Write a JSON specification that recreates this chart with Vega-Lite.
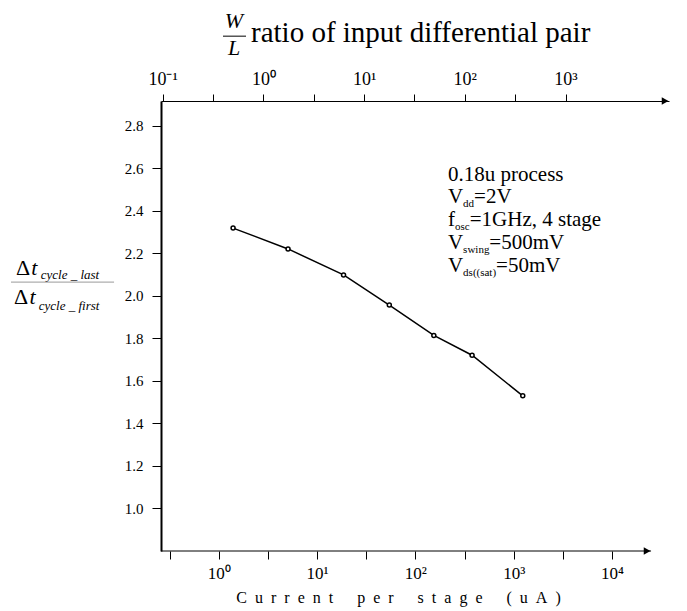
{
  "$schema": "https://vega.github.io/schema/vega-lite/v6.json",
  "width": 508,
  "height": 450,
  "padding": {"left": 10, "top": 9, "right": 5, "bottom": 5},
  "background": "white",
  "config": {
    "view": {"stroke": null},
    "font": "Liberation Serif",
    "axis": {"labelFont": "Liberation Serif", "titleFont": "Liberation Serif", "labelColor": "black", "titleColor": "black", "tickColor": "black", "domainColor": "black", "grid": false, "titleFontWeight": "normal"}
  },
  "layer": [
    {
      "layer": [
        {
          "data": {"values": [
            {"current": 1.40, "ratio": 2.319},
            {"current": 5.07, "ratio": 2.221},
            {"current": 18.6, "ratio": 2.099},
            {"current": 54.3, "ratio": 1.957},
            {"current": 154, "ratio": 1.814},
            {"current": 377, "ratio": 1.721},
            {"current": 1235, "ratio": 1.530}
          ]},
          "mark": {"type": "line", "color": "black", "strokeWidth": 1.5, "point": {"filled": false, "fill": "white", "stroke": "black", "size": 16, "strokeWidth": 1.5, "opacity": 1}},
          "encoding": {
            "x": {"field": "current", "type": "quantitative",
              "scale": {"type": "log", "domain": [0.259, 37900], "nice": false},
              "axis": {"orient": "bottom", "domain": false, "values": [0.3162, 1, 3.162, 10, 31.62, 100, 316.2, 1000, 3162, 10000],
                "labelExpr": "datum.value == 1 ? '10⁰' : datum.value == 10 ? '10¹' : datum.value == 100 ? '10²' : datum.value == 1000 ? '10³' : datum.value == 10000 ? '10⁴' : ''",
                "tickSize": 8, "labelPadding": 6, "labelFontSize": 17, "labelFlush": false, "labelOverlap": false,
                "title": "C\u00a0\u00a0u\u00a0\u00a0r\u00a0\u00a0r\u00a0\u00a0e\u00a0\u00a0n\u00a0\u00a0t\u00a0\u00a0\u00a0\u00a0\u00a0\u00a0p\u00a0\u00a0e\u00a0\u00a0r\u00a0\u00a0\u00a0\u00a0\u00a0\u00a0s\u00a0\u00a0t\u00a0\u00a0a\u00a0\u00a0g\u00a0\u00a0e\u00a0\u00a0\u00a0\u00a0\u00a0\u00a0(\u00a0\u00a0u\u00a0\u00a0A\u00a0\u00a0)",
                "titleFontSize": 16, "titlePadding": 8, "titleX": 237, "titleAlign": "center"}},
            "y": {"field": "ratio", "type": "quantitative",
              "scale": {"domain": [0.8, 2.917], "nice": false, "zero": false},
              "axis": {"values": [1.0, 1.2, 1.4, 1.6, 1.8, 2.0, 2.2, 2.4, 2.6, 2.8], "format": ".1f", "tickSize": 9, "labelPadding": 9, "labelFontSize": 15, "domainWidth": 2, "title": null}}
          }
        },
        {
          "data": {"values": [{}]},
          "mark": {"type": "rule", "color": "black", "strokeWidth": 1},
          "encoding": {"x": {"datum": 0.259, "type": "quantitative"}, "x2": {"datum": 24900}, "y": {"datum": 0.8, "type": "quantitative"}}
        },
        {
          "data": {"values": [{}]},
          "mark": {"type": "point", "shape": "triangle-right", "filled": true, "color": "black", "size": 60, "opacity": 1},
          "encoding": {"x": {"datum": 22700, "type": "quantitative"}, "y": {"datum": 0.8, "type": "quantitative"}}
        },
        {
          "data": {"values": [{}]},
          "mark": {"type": "point", "shape": "triangle-right", "filled": true, "color": "black", "size": 60, "opacity": 1},
          "encoding": {"x": {"datum": 34600, "type": "quantitative"}, "y": {"datum": 2.917, "type": "quantitative"}}
        },
        {
          "data": {"values": [{}]},
          "mark": {"type": "text", "align": "center", "baseline": "alphabetic", "font": "Liberation Serif", "fontStyle": "italic", "fontSize": 22, "color": "black"},
          "encoding": {"x": {"datum": 1.431, "type": "quantitative"}, "y": {"datum": 3.262, "type": "quantitative"}, "text": {"value": "W"}}
        },
        {
          "data": {"values": [{}]},
          "mark": {"type": "text", "align": "center", "baseline": "alphabetic", "font": "Liberation Serif", "fontStyle": "italic", "fontSize": 22, "color": "black"},
          "encoding": {"x": {"datum": 1.431, "type": "quantitative"}, "y": {"datum": 3.133, "type": "quantitative"}, "text": {"value": "L"}}
        },
        {
          "data": {"values": [{}]},
          "mark": {"type": "rule", "color": "black", "strokeWidth": 1},
          "encoding": {"x": {"datum": 1.106, "type": "quantitative"}, "x2": {"datum": 1.895}, "y": {"datum": 3.222, "type": "quantitative"}}
        },
        {
          "data": {"values": [{}]},
          "mark": {"type": "text", "align": "left", "baseline": "alphabetic", "font": "Liberation Serif", "fontSize": 29, "color": "black"},
          "encoding": {"x": {"datum": 2.131, "type": "quantitative"}, "y": {"datum": 3.194, "type": "quantitative"}, "text": {"value": "ratio of input differential pair"}}
        },
        {
          "data": {"values": [{}]},
          "mark": {"type": "text", "align": "left", "baseline": "alphabetic", "font": "Liberation Serif", "fontSize": 22, "color": "black"},
          "encoding": {"x": {"datum": 0.00868, "type": "quantitative"}, "y": {"datum": 2.098, "type": "quantitative"}, "text": {"value": "Δ"}}
        },
        {
          "data": {"values": [{}]},
          "mark": {"type": "text", "align": "left", "baseline": "alphabetic", "font": "Liberation Serif", "fontStyle": "italic", "fontSize": 22, "color": "black"},
          "encoding": {"x": {"datum": 0.0124, "type": "quantitative"}, "y": {"datum": 2.098, "type": "quantitative"}, "text": {"value": "t"}}
        },
        {
          "data": {"values": [{}]},
          "mark": {"type": "text", "align": "left", "baseline": "alphabetic", "font": "Liberation Serif", "fontStyle": "italic", "fontSize": 13, "color": "black"},
          "encoding": {"x": {"datum": 0.01550, "type": "quantitative"}, "y": {"datum": 2.079, "type": "quantitative"}, "text": {"value": "cycle _ last"}}
        },
        {
          "data": {"values": [{}]},
          "mark": {"type": "rule", "color": "#999999", "strokeWidth": 1},
          "encoding": {"x": {"datum": 0.00773, "type": "quantitative"}, "x2": {"datum": 0.0863}, "y": {"datum": 2.065, "type": "quantitative"}}
        },
        {
          "data": {"values": [{}]},
          "mark": {"type": "text", "align": "left", "baseline": "alphabetic", "font": "Liberation Serif", "fontSize": 22, "color": "black"},
          "encoding": {"x": {"datum": 0.00828, "type": "quantitative"}, "y": {"datum": 1.962, "type": "quantitative"}, "text": {"value": "Δ"}}
        },
        {
          "data": {"values": [{}]},
          "mark": {"type": "text", "align": "left", "baseline": "alphabetic", "font": "Liberation Serif", "fontStyle": "italic", "fontSize": 22, "color": "black"},
          "encoding": {"x": {"datum": 0.0119, "type": "quantitative"}, "y": {"datum": 1.962, "type": "quantitative"}, "text": {"value": "t"}}
        },
        {
          "data": {"values": [{}]},
          "mark": {"type": "text", "align": "left", "baseline": "alphabetic", "font": "Liberation Serif", "fontStyle": "italic", "fontSize": 13, "color": "black"},
          "encoding": {"x": {"datum": 0.0148, "type": "quantitative"}, "y": {"datum": 1.934, "type": "quantitative"}, "text": {"value": "cycle _ first"}}
        },
        {
          "data": {"values": [{}]},
          "mark": {"type": "text", "align": "left", "baseline": "alphabetic", "font": "Liberation Serif", "fontSize": 21, "color": "black"},
          "encoding": {"x": {"datum": 214.8, "type": "quantitative"}, "y": {"datum": 2.540, "type": "quantitative"}, "text": {"value": "0.18u process"}}
        },
        {
          "data": {"values": [{}]},
          "mark": {"type": "text", "align": "left", "baseline": "alphabetic", "font": "Liberation Serif", "fontSize": 21, "color": "black"},
          "encoding": {"x": {"datum": 214.8, "type": "quantitative"}, "y": {"datum": 2.437, "type": "quantitative"}, "text": {"value": "V"}}
        },
        {
          "data": {"values": [{}]},
          "mark": {"type": "text", "align": "left", "baseline": "alphabetic", "font": "Liberation Serif", "fontSize": 11, "color": "black"},
          "encoding": {"x": {"datum": 305.5, "type": "quantitative"}, "y": {"datum": 2.418, "type": "quantitative"}, "text": {"value": "dd"}}
        },
        {
          "data": {"values": [{}]},
          "mark": {"type": "text", "align": "left", "baseline": "alphabetic", "font": "Liberation Serif", "fontSize": 21, "color": "black"},
          "encoding": {"x": {"datum": 395, "type": "quantitative"}, "y": {"datum": 2.437, "type": "quantitative"}, "text": {"value": "=2V"}}
        },
        {
          "data": {"values": [{}]},
          "mark": {"type": "text", "align": "left", "baseline": "alphabetic", "font": "Liberation Serif", "fontSize": 21, "color": "black"},
          "encoding": {"x": {"datum": 214.8, "type": "quantitative"}, "y": {"datum": 2.329, "type": "quantitative"}, "text": {"value": "f"}}
        },
        {
          "data": {"values": [{}]},
          "mark": {"type": "text", "align": "left", "baseline": "alphabetic", "font": "Liberation Serif", "fontSize": 11, "color": "black"},
          "encoding": {"x": {"datum": 253, "type": "quantitative"}, "y": {"datum": 2.311, "type": "quantitative"}, "text": {"value": "osc"}}
        },
        {
          "data": {"values": [{}]},
          "mark": {"type": "text", "align": "left", "baseline": "alphabetic", "font": "Liberation Serif", "fontSize": 21, "color": "black"},
          "encoding": {"x": {"datum": 357, "type": "quantitative"}, "y": {"datum": 2.329, "type": "quantitative"}, "text": {"value": "=1GHz, 4 stage"}}
        },
        {
          "data": {"values": [{}]},
          "mark": {"type": "text", "align": "left", "baseline": "alphabetic", "font": "Liberation Serif", "fontSize": 21, "color": "black"},
          "encoding": {"x": {"datum": 214.8, "type": "quantitative"}, "y": {"datum": 2.220, "type": "quantitative"}, "text": {"value": "V"}}
        },
        {
          "data": {"values": [{}]},
          "mark": {"type": "text", "align": "left", "baseline": "alphabetic", "font": "Liberation Serif", "fontSize": 11, "color": "black"},
          "encoding": {"x": {"datum": 305.5, "type": "quantitative"}, "y": {"datum": 2.202, "type": "quantitative"}, "text": {"value": "swing"}}
        },
        {
          "data": {"values": [{}]},
          "mark": {"type": "text", "align": "left", "baseline": "alphabetic", "font": "Liberation Serif", "fontSize": 21, "color": "black"},
          "encoding": {"x": {"datum": 565, "type": "quantitative"}, "y": {"datum": 2.220, "type": "quantitative"}, "text": {"value": "=500mV"}}
        },
        {
          "data": {"values": [{}]},
          "mark": {"type": "text", "align": "left", "baseline": "alphabetic", "font": "Liberation Serif", "fontSize": 21, "color": "black"},
          "encoding": {"x": {"datum": 214.8, "type": "quantitative"}, "y": {"datum": 2.112, "type": "quantitative"}, "text": {"value": "V"}}
        },
        {
          "data": {"values": [{}]},
          "mark": {"type": "text", "align": "left", "baseline": "alphabetic", "font": "Liberation Serif", "fontSize": 11, "color": "black"},
          "encoding": {"x": {"datum": 305.5, "type": "quantitative"}, "y": {"datum": 2.094, "type": "quantitative"}, "text": {"value": "ds((sat)"}}
        },
        {
          "data": {"values": [{}]},
          "mark": {"type": "text", "align": "left", "baseline": "alphabetic", "font": "Liberation Serif", "fontSize": 21, "color": "black"},
          "encoding": {"x": {"datum": 661, "type": "quantitative"}, "y": {"datum": 2.112, "type": "quantitative"}, "text": {"value": "=50mV"}}
        }
      ]
    },
    {
      "data": {"values": [{}]},
      "mark": {"type": "point", "opacity": 0},
      "encoding": {
        "x": {"datum": 1, "type": "quantitative",
          "scale": {"type": "log", "domain": [0.0962, 10660], "nice": false},
          "axis": {"orient": "top", "values": [0.1, 0.3162, 1, 3.162, 10, 31.62, 100, 316.2, 1000],
            "labelExpr": "datum.value == 0.1 ? '10⁻¹' : datum.value == 1 ? '10⁰' : datum.value == 10 ? '10¹' : datum.value == 100 ? '10²' : datum.value == 1000 ? '10³' : ''",
            "tickSize": 7, "labelPadding": 6, "labelFontSize": 18, "labelFlush": false, "labelOverlap": false, "domainWidth": 1, "title": null}}
      }
    }
  ],
  "resolve": {"scale": {"x": "independent"}, "axis": {"x": "independent"}}
}
